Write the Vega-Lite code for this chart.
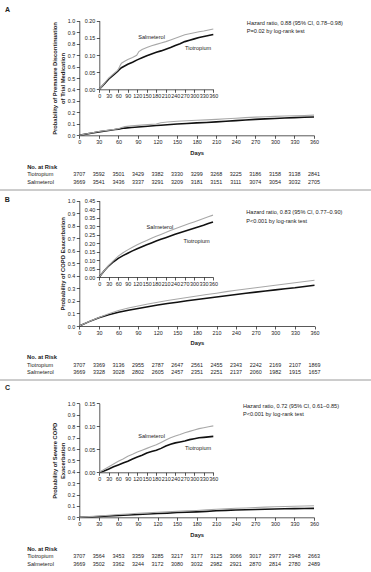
{
  "$schema": "https://vega.github.io/schema/vega-lite/v6.json",
  "width": 371,
  "height": 572,
  "padding": 0,
  "autosize": {"type": "none"},
  "background": "white",
  "datasets": {
    "curveA": [
      {"day": 0, "Tiotropium": 0, "Salmeterol": 0},
      {"day": 10, "Tiotropium": 0.010, "Salmeterol": 0.011},
      {"day": 20, "Tiotropium": 0.020, "Salmeterol": 0.022},
      {"day": 30, "Tiotropium": 0.030, "Salmeterol": 0.033},
      {"day": 45, "Tiotropium": 0.042, "Salmeterol": 0.045},
      {"day": 55, "Tiotropium": 0.050, "Salmeterol": 0.053},
      {"day": 60, "Tiotropium": 0.054, "Salmeterol": 0.058},
      {"day": 65, "Tiotropium": 0.059, "Salmeterol": 0.068},
      {"day": 70, "Tiotropium": 0.063, "Salmeterol": 0.076},
      {"day": 80, "Tiotropium": 0.068, "Salmeterol": 0.082},
      {"day": 90, "Tiotropium": 0.073, "Salmeterol": 0.087},
      {"day": 105, "Tiotropium": 0.079, "Salmeterol": 0.093},
      {"day": 118, "Tiotropium": 0.085, "Salmeterol": 0.099},
      {"day": 125, "Tiotropium": 0.088, "Salmeterol": 0.110},
      {"day": 135, "Tiotropium": 0.092, "Salmeterol": 0.116},
      {"day": 150, "Tiotropium": 0.098, "Salmeterol": 0.122},
      {"day": 165, "Tiotropium": 0.103, "Salmeterol": 0.127},
      {"day": 180, "Tiotropium": 0.108, "Salmeterol": 0.131},
      {"day": 195, "Tiotropium": 0.112, "Salmeterol": 0.135},
      {"day": 210, "Tiotropium": 0.117, "Salmeterol": 0.139},
      {"day": 225, "Tiotropium": 0.122, "Salmeterol": 0.144},
      {"day": 240, "Tiotropium": 0.128, "Salmeterol": 0.149},
      {"day": 255, "Tiotropium": 0.133, "Salmeterol": 0.154},
      {"day": 270, "Tiotropium": 0.139, "Salmeterol": 0.159},
      {"day": 285, "Tiotropium": 0.143, "Salmeterol": 0.162},
      {"day": 300, "Tiotropium": 0.147, "Salmeterol": 0.165},
      {"day": 315, "Tiotropium": 0.151, "Salmeterol": 0.168},
      {"day": 330, "Tiotropium": 0.154, "Salmeterol": 0.170},
      {"day": 345, "Tiotropium": 0.157, "Salmeterol": 0.173},
      {"day": 360, "Tiotropium": 0.160, "Salmeterol": 0.176}
    ],
    "curveB": [
      {"day": 0, "Tiotropium": 0, "Salmeterol": 0},
      {"day": 15, "Tiotropium": 0.035, "Salmeterol": 0.036},
      {"day": 30, "Tiotropium": 0.066, "Salmeterol": 0.068},
      {"day": 45, "Tiotropium": 0.090, "Salmeterol": 0.097},
      {"day": 60, "Tiotropium": 0.110, "Salmeterol": 0.123},
      {"day": 75, "Tiotropium": 0.126, "Salmeterol": 0.143},
      {"day": 90, "Tiotropium": 0.140, "Salmeterol": 0.160},
      {"day": 105, "Tiotropium": 0.154, "Salmeterol": 0.176},
      {"day": 120, "Tiotropium": 0.167, "Salmeterol": 0.190},
      {"day": 135, "Tiotropium": 0.179, "Salmeterol": 0.203},
      {"day": 150, "Tiotropium": 0.190, "Salmeterol": 0.215},
      {"day": 165, "Tiotropium": 0.201, "Salmeterol": 0.228},
      {"day": 180, "Tiotropium": 0.212, "Salmeterol": 0.240},
      {"day": 195, "Tiotropium": 0.222, "Salmeterol": 0.251},
      {"day": 210, "Tiotropium": 0.232, "Salmeterol": 0.262},
      {"day": 225, "Tiotropium": 0.242, "Salmeterol": 0.274},
      {"day": 240, "Tiotropium": 0.252, "Salmeterol": 0.285},
      {"day": 255, "Tiotropium": 0.261, "Salmeterol": 0.295},
      {"day": 270, "Tiotropium": 0.270, "Salmeterol": 0.305},
      {"day": 285, "Tiotropium": 0.279, "Salmeterol": 0.315},
      {"day": 300, "Tiotropium": 0.288, "Salmeterol": 0.325},
      {"day": 315, "Tiotropium": 0.297, "Salmeterol": 0.335},
      {"day": 330, "Tiotropium": 0.305, "Salmeterol": 0.345},
      {"day": 345, "Tiotropium": 0.315, "Salmeterol": 0.355},
      {"day": 360, "Tiotropium": 0.325, "Salmeterol": 0.365}
    ],
    "curveC": [
      {"day": 0, "Tiotropium": 0, "Salmeterol": 0},
      {"day": 15, "Tiotropium": 0.003, "Salmeterol": 0.006},
      {"day": 30, "Tiotropium": 0.007, "Salmeterol": 0.012},
      {"day": 45, "Tiotropium": 0.012, "Salmeterol": 0.018},
      {"day": 60, "Tiotropium": 0.016, "Salmeterol": 0.024},
      {"day": 75, "Tiotropium": 0.020, "Salmeterol": 0.029},
      {"day": 90, "Tiotropium": 0.024, "Salmeterol": 0.035},
      {"day": 105, "Tiotropium": 0.029, "Salmeterol": 0.039},
      {"day": 120, "Tiotropium": 0.033, "Salmeterol": 0.044},
      {"day": 135, "Tiotropium": 0.037, "Salmeterol": 0.048},
      {"day": 150, "Tiotropium": 0.042, "Salmeterol": 0.052},
      {"day": 165, "Tiotropium": 0.045, "Salmeterol": 0.056},
      {"day": 180, "Tiotropium": 0.048, "Salmeterol": 0.060},
      {"day": 195, "Tiotropium": 0.052, "Salmeterol": 0.065},
      {"day": 210, "Tiotropium": 0.057, "Salmeterol": 0.070},
      {"day": 225, "Tiotropium": 0.061, "Salmeterol": 0.075},
      {"day": 240, "Tiotropium": 0.064, "Salmeterol": 0.079},
      {"day": 255, "Tiotropium": 0.066, "Salmeterol": 0.082},
      {"day": 270, "Tiotropium": 0.068, "Salmeterol": 0.086},
      {"day": 285, "Tiotropium": 0.071, "Salmeterol": 0.089},
      {"day": 300, "Tiotropium": 0.073, "Salmeterol": 0.092},
      {"day": 315, "Tiotropium": 0.075, "Salmeterol": 0.095},
      {"day": 330, "Tiotropium": 0.076, "Salmeterol": 0.097},
      {"day": 345, "Tiotropium": 0.077, "Salmeterol": 0.099},
      {"day": 360, "Tiotropium": 0.078, "Salmeterol": 0.101}
    ],
    "riskA": [
      {"day": 0, "Tiotropium": 3707, "Salmeterol": 3669},
      {"day": 30, "Tiotropium": 3592, "Salmeterol": 3541},
      {"day": 60, "Tiotropium": 3501, "Salmeterol": 3436},
      {"day": 90, "Tiotropium": 3429, "Salmeterol": 3337},
      {"day": 120, "Tiotropium": 3382, "Salmeterol": 3291},
      {"day": 150, "Tiotropium": 3330, "Salmeterol": 3209},
      {"day": 180, "Tiotropium": 3299, "Salmeterol": 3181},
      {"day": 210, "Tiotropium": 3268, "Salmeterol": 3151},
      {"day": 240, "Tiotropium": 3225, "Salmeterol": 3111},
      {"day": 270, "Tiotropium": 3186, "Salmeterol": 3074},
      {"day": 300, "Tiotropium": 3158, "Salmeterol": 3054},
      {"day": 330, "Tiotropium": 3138, "Salmeterol": 3032},
      {"day": 360, "Tiotropium": 2841, "Salmeterol": 2705}
    ],
    "riskB": [
      {"day": 0, "Tiotropium": 3707, "Salmeterol": 3669},
      {"day": 30, "Tiotropium": 3369, "Salmeterol": 3328},
      {"day": 60, "Tiotropium": 3136, "Salmeterol": 3028},
      {"day": 90, "Tiotropium": 2955, "Salmeterol": 2802},
      {"day": 120, "Tiotropium": 2787, "Salmeterol": 2605},
      {"day": 150, "Tiotropium": 2647, "Salmeterol": 2457},
      {"day": 180, "Tiotropium": 2561, "Salmeterol": 2351},
      {"day": 210, "Tiotropium": 2455, "Salmeterol": 2251},
      {"day": 240, "Tiotropium": 2343, "Salmeterol": 2137},
      {"day": 270, "Tiotropium": 2242, "Salmeterol": 2060},
      {"day": 300, "Tiotropium": 2169, "Salmeterol": 1982},
      {"day": 330, "Tiotropium": 2107, "Salmeterol": 1915},
      {"day": 360, "Tiotropium": 1869, "Salmeterol": 1657}
    ],
    "riskC": [
      {"day": 0, "Tiotropium": 3707, "Salmeterol": 3669},
      {"day": 30, "Tiotropium": 3564, "Salmeterol": 3502},
      {"day": 60, "Tiotropium": 3453, "Salmeterol": 3362},
      {"day": 90, "Tiotropium": 3359, "Salmeterol": 3244},
      {"day": 120, "Tiotropium": 3285, "Salmeterol": 3172},
      {"day": 150, "Tiotropium": 3217, "Salmeterol": 3080},
      {"day": 180, "Tiotropium": 3177, "Salmeterol": 3032},
      {"day": 210, "Tiotropium": 3125, "Salmeterol": 2982},
      {"day": 240, "Tiotropium": 3066, "Salmeterol": 2921},
      {"day": 270, "Tiotropium": 3017, "Salmeterol": 2870},
      {"day": 300, "Tiotropium": 2977, "Salmeterol": 2814},
      {"day": 330, "Tiotropium": 2948, "Salmeterol": 2780},
      {"day": 360, "Tiotropium": 2663, "Salmeterol": 2489}
    ]
  },
  "layer": [
    {
      "layer": [
        {
          "data": {"name": "curveA"},
          "transform": [{"fold": ["Tiotropium", "Salmeterol"], "as": ["drug", "p"]}],
          "mark": {"type": "line"},
          "encoding": {
            "x": {"field": "day", "type": "quantitative", "scale": {"domain": [0, 360], "range": [79.3, 314], "nice": false, "zero": false},
              "axis": {"orient": "bottom", "offset": -436.7, "tickCount": 20, "values": [0, 30, 60, 90, 120, 150, 180, 210, 240, 270, 300, 330, 360], "title": "Days", "titlePadding": 4}},
            "y": {"field": "p", "type": "quantitative", "scale": {"domain": [0, 1], "range": [135.3, 20.7], "nice": false},
              "axis": {"orient": "left", "offset": -79.3, "tickCount": 20, "values": [0, 0.1, 0.2, 0.3, 0.4, 0.5, 0.6, 0.7, 0.8, 0.9, 1], "format": ".1f", "title": ["Probability of Premature Discontinuation", "of Trial Medication"], "titlePadding": 2}},
            "color": {"field": "drug", "type": "nominal", "scale": {"domain": ["Salmeterol", "Tiotropium"], "range": ["#a8a8a8", "#111111"]}, "legend": null},
            "strokeWidth": {"field": "drug", "type": "nominal", "scale": {"domain": ["Salmeterol", "Tiotropium"], "range": [1.1, 1.6]}, "legend": null}
          }
        },
        {
          "data": {"values": [{}]},
          "mark": {"type": "text", "align": "left", "baseline": "top", "lineBreak": "\n", "lineHeight": 8.4, "fontSize": 5.6, "color": "#222"},
          "encoding": {"x": {"datum": 257}, "y": {"datum": 1.0}, "text": {"value": "Hazard ratio, 0.88 (95% CI, 0.78–0.98)\nP=0.02 by log-rank test"}}
        },
        {
          "data": {"values": [{}]},
          "mark": {"type": "text", "align": "left", "baseline": "middle", "fontSize": 7, "fontWeight": "bold", "color": "#222"},
          "encoding": {"x": {"datum": -114}, "y": {"datum": 1.093}, "text": {"value": "A"}}
        }
      ]
    },
    {
      "layer": [
        {
          "data": {"name": "curveA"},
          "transform": [{"fold": ["Tiotropium", "Salmeterol"], "as": ["drug", "p"]}],
          "mark": {"type": "line"},
          "encoding": {
            "x": {"field": "day", "type": "quantitative", "scale": {"domain": [0, 360], "range": [99.3, 213.3], "nice": false, "zero": false},
              "axis": {"orient": "bottom", "offset": -482.7, "tickCount": 20, "values": [0, 30, 60, 90, 120, 150, 180, 210, 240, 270, 300, 330, 360], "title": null}},
            "y": {"field": "p", "type": "quantitative", "scale": {"domain": [0, 0.2], "range": [89.3, 20.7], "nice": false},
              "axis": {"orient": "left", "offset": -99.3, "tickCount": 20, "values": [0, 0.05, 0.1, 0.15, 0.2], "format": ".2f", "title": null}},
            "color": {"field": "drug", "type": "nominal", "legend": null},
            "strokeWidth": {"field": "drug", "type": "nominal", "legend": null}
          }
        },
        {
          "data": {"values": [{}]},
          "mark": {"type": "text", "fontSize": 5.6, "color": "#222"},
          "encoding": {"x": {"datum": 165}, "y": {"datum": 0.153}, "text": {"value": "Salmeterol"}}
        },
        {
          "data": {"values": [{}]},
          "mark": {"type": "text", "fontSize": 5.6, "color": "#222"},
          "encoding": {"x": {"datum": 312}, "y": {"datum": 0.12}, "text": {"value": "Tiotropium"}}
        }
      ]
    },
    {
      "layer": [
        {
          "data": {"name": "riskA"},
          "transform": [{"fold": ["Tiotropium", "Salmeterol"], "as": ["drug", "n"]}],
          "mark": {"type": "text", "fontSize": 5.4, "color": "#222"},
          "encoding": {
            "x": {"field": "day", "type": "quantitative", "scale": {"domain": [0, 360], "range": [79.3, 314], "nice": false, "zero": false}, "axis": null},
            "y": {"field": "drug", "type": "nominal", "scale": {"type": "point", "domain": ["No. at Risk", "Tiotropium", "Salmeterol", "sep"], "range": [166.5, 190], "padding": 0}, "axis": null},
            "text": {"field": "n", "type": "quantitative"}
          }
        },
        {
          "data": {"values": [{"drug": "Tiotropium"}, {"drug": "Salmeterol"}]},
          "mark": {"type": "text", "align": "left", "fontSize": 5.6, "color": "#222"},
          "encoding": {"x": {"datum": -80}, "y": {"field": "drug", "type": "nominal"}, "text": {"field": "drug"}}
        },
        {
          "data": {"values": [{}]},
          "mark": {"type": "text", "align": "left", "fontSize": 5.8, "fontWeight": "bold", "color": "#222"},
          "encoding": {"x": {"datum": -80}, "y": {"datum": "No. at Risk"}, "text": {"value": "No. at Risk"}}
        },
        {
          "data": {"values": [{}]},
          "mark": {"type": "rule", "color": "#9a9a9a", "strokeWidth": 1},
          "encoding": {"x": {"datum": -122}, "x2": {"datum": 450}, "y": {"datum": "sep"}}
        }
      ]
    },
    {
      "layer": [
        {
          "data": {"name": "curveB"},
          "transform": [{"fold": ["Tiotropium", "Salmeterol"], "as": ["drug", "p"]}],
          "mark": {"type": "line"},
          "encoding": {
            "x": {"field": "day", "type": "quantitative", "scale": {"domain": [0, 360], "range": [79.3, 314.5], "nice": false, "zero": false},
              "axis": {"orient": "bottom", "offset": -246, "tickCount": 20, "values": [0, 30, 60, 90, 120, 150, 180, 210, 240, 270, 300, 330, 360], "title": "Days", "titlePadding": 4}},
            "y": {"field": "p", "type": "quantitative", "scale": {"domain": [0, 1], "range": [326, 200.7], "nice": false},
              "axis": {"orient": "left", "offset": -79.3, "tickCount": 20, "values": [0, 0.1, 0.2, 0.3, 0.4, 0.5, 0.6, 0.7, 0.8, 0.9, 1], "format": ".1f", "title": "Probability of COPD Exacerbation", "titlePadding": 2}},
            "color": {"field": "drug", "type": "nominal", "legend": null},
            "strokeWidth": {"field": "drug", "type": "nominal", "legend": null}
          }
        },
        {
          "data": {"values": [{}]},
          "mark": {"type": "text", "align": "left", "baseline": "top", "lineBreak": "\n", "lineHeight": 8.4, "fontSize": 5.6, "color": "#222"},
          "encoding": {"x": {"datum": 255.6}, "y": {"datum": 0.923}, "text": {"value": "Hazard ratio, 0.83 (95% CI, 0.77–0.90)\nP<0.001 by log-rank test"}}
        },
        {
          "data": {"values": [{}]},
          "mark": {"type": "text", "align": "left", "baseline": "middle", "fontSize": 7, "fontWeight": "bold", "color": "#222"},
          "encoding": {"x": {"datum": -114}, "y": {"datum": 1.006}, "text": {"value": "B"}}
        }
      ]
    },
    {
      "layer": [
        {
          "data": {"name": "curveB"},
          "transform": [{"fold": ["Tiotropium", "Salmeterol"], "as": ["drug", "p"]}],
          "mark": {"type": "line"},
          "encoding": {
            "x": {"field": "day", "type": "quantitative", "scale": {"domain": [0, 360], "range": [99.3, 213], "nice": false, "zero": false},
              "axis": {"orient": "bottom", "offset": -295, "tickCount": 20, "values": [0, 30, 60, 90, 120, 150, 180, 210, 240, 270, 300, 330, 360], "title": null}},
            "y": {"field": "p", "type": "quantitative", "scale": {"domain": [0, 0.45], "range": [277, 200.7], "nice": false},
              "axis": {"orient": "left", "offset": -99.3, "tickCount": 20, "values": [0, 0.05, 0.1, 0.15, 0.2, 0.25, 0.3, 0.35, 0.4, 0.45], "format": ".2f", "title": null}},
            "color": {"field": "drug", "type": "nominal", "legend": null},
            "strokeWidth": {"field": "drug", "type": "nominal", "legend": null}
          }
        },
        {
          "data": {"values": [{}]},
          "mark": {"type": "text", "fontSize": 5.6, "color": "#222"},
          "encoding": {"x": {"datum": 192}, "y": {"datum": 0.297}, "text": {"value": "Salmeterol"}}
        },
        {
          "data": {"values": [{}]},
          "mark": {"type": "text", "fontSize": 5.6, "color": "#222"},
          "encoding": {"x": {"datum": 308}, "y": {"datum": 0.212}, "text": {"value": "Tiotropium"}}
        }
      ]
    },
    {
      "layer": [
        {
          "data": {"name": "riskB"},
          "transform": [{"fold": ["Tiotropium", "Salmeterol"], "as": ["drug", "n"]}],
          "mark": {"type": "text", "fontSize": 5.4, "color": "#222"},
          "encoding": {
            "x": {"field": "day", "type": "quantitative", "scale": {"domain": [0, 360], "range": [79.3, 314.5], "nice": false, "zero": false}, "axis": null},
            "y": {"field": "drug", "type": "nominal", "scale": {"type": "point", "domain": ["No. at Risk", "Tiotropium", "Salmeterol", "sep"], "range": [357, 380], "padding": 0}, "axis": null},
            "text": {"field": "n", "type": "quantitative"}
          }
        },
        {
          "data": {"values": [{"drug": "Tiotropium"}, {"drug": "Salmeterol"}]},
          "mark": {"type": "text", "align": "left", "fontSize": 5.6, "color": "#222"},
          "encoding": {"x": {"datum": -80}, "y": {"field": "drug", "type": "nominal"}, "text": {"field": "drug"}}
        },
        {
          "data": {"values": [{}]},
          "mark": {"type": "text", "align": "left", "fontSize": 5.8, "fontWeight": "bold", "color": "#222"},
          "encoding": {"x": {"datum": -80}, "y": {"datum": "No. at Risk"}, "text": {"value": "No. at Risk"}}
        },
        {
          "data": {"values": [{}]},
          "mark": {"type": "rule", "color": "#9a9a9a", "strokeWidth": 1},
          "encoding": {"x": {"datum": -122}, "x2": {"datum": 450}, "y": {"datum": "sep"}}
        }
      ]
    },
    {
      "layer": [
        {
          "data": {"name": "curveC"},
          "transform": [{"fold": ["Tiotropium", "Salmeterol"], "as": ["drug", "p"]}],
          "mark": {"type": "line"},
          "encoding": {
            "x": {"field": "day", "type": "quantitative", "scale": {"domain": [0, 360], "range": [79.3, 314], "nice": false, "zero": false},
              "axis": {"orient": "bottom", "offset": -54.7, "tickCount": 20, "values": [0, 30, 60, 90, 120, 150, 180, 210, 240, 270, 300, 330, 360], "title": "Days", "titlePadding": 4}},
            "y": {"field": "p", "type": "quantitative", "scale": {"domain": [0, 1], "range": [517.3, 403.3], "nice": false},
              "axis": {"orient": "left", "offset": -79.3, "tickCount": 20, "values": [0, 0.1, 0.2, 0.3, 0.4, 0.5, 0.6, 0.7, 0.8, 0.9, 1], "format": ".1f", "title": ["Probability of Severe COPD", "Exacerbation"], "titlePadding": 2}},
            "color": {"field": "drug", "type": "nominal", "legend": null},
            "strokeWidth": {"field": "drug", "type": "nominal", "legend": null}
          }
        },
        {
          "data": {"values": [{}]},
          "mark": {"type": "text", "align": "left", "baseline": "top", "lineBreak": "\n", "lineHeight": 8.4, "fontSize": 5.6, "color": "#222"},
          "encoding": {"x": {"datum": 251}, "y": {"datum": 0.994}, "text": {"value": "Hazard ratio, 0.72 (95% CI, 0.61–0.85)\nP<0.001 by log-rank test"}}
        },
        {
          "data": {"values": [{}]},
          "mark": {"type": "text", "align": "left", "baseline": "middle", "fontSize": 7, "fontWeight": "bold", "color": "#222"},
          "encoding": {"x": {"datum": -114}, "y": {"datum": 1.132}, "text": {"value": "C"}}
        }
      ]
    },
    {
      "layer": [
        {
          "data": {"name": "curveC"},
          "transform": [{"fold": ["Tiotropium", "Salmeterol"], "as": ["drug", "p"]}],
          "mark": {"type": "line"},
          "encoding": {
            "x": {"field": "day", "type": "quantitative", "scale": {"domain": [0, 360], "range": [99.3, 213.3], "nice": false, "zero": false},
              "axis": {"orient": "bottom", "offset": -99.7, "tickCount": 20, "values": [0, 30, 60, 90, 120, 150, 180, 210, 240, 270, 300, 330, 360], "title": null}},
            "y": {"field": "p", "type": "quantitative", "scale": {"domain": [0, 0.15], "range": [472.3, 403.3], "nice": false},
              "axis": {"orient": "left", "offset": -99.3, "tickCount": 20, "values": [0, 0.05, 0.1, 0.15], "format": ".2f", "title": null}},
            "color": {"field": "drug", "type": "nominal", "legend": null},
            "strokeWidth": {"field": "drug", "type": "nominal", "legend": null}
          }
        },
        {
          "data": {"values": [{}]},
          "mark": {"type": "text", "fontSize": 5.6, "color": "#222"},
          "encoding": {"x": {"datum": 165}, "y": {"datum": 0.079}, "text": {"value": "Salmeterol"}}
        },
        {
          "data": {"values": [{}]},
          "mark": {"type": "text", "fontSize": 5.6, "color": "#222"},
          "encoding": {"x": {"datum": 312}, "y": {"datum": 0.0535}, "text": {"value": "Tiotropium"}}
        }
      ]
    },
    {
      "layer": [
        {
          "data": {"name": "riskC"},
          "transform": [{"fold": ["Tiotropium", "Salmeterol"], "as": ["drug", "n"]}],
          "mark": {"type": "text", "fontSize": 5.4, "color": "#222"},
          "encoding": {
            "x": {"field": "day", "type": "quantitative", "scale": {"domain": [0, 360], "range": [79.3, 314], "nice": false, "zero": false}, "axis": null},
            "y": {"field": "drug", "type": "nominal", "scale": {"type": "point", "domain": ["No. at Risk", "Tiotropium", "Salmeterol"], "range": [548.5, 564], "padding": 0}, "axis": null},
            "text": {"field": "n", "type": "quantitative"}
          }
        },
        {
          "data": {"values": [{"drug": "Tiotropium"}, {"drug": "Salmeterol"}]},
          "mark": {"type": "text", "align": "left", "fontSize": 5.6, "color": "#222"},
          "encoding": {"x": {"datum": -80}, "y": {"field": "drug", "type": "nominal"}, "text": {"field": "drug"}}
        },
        {
          "data": {"values": [{}]},
          "mark": {"type": "text", "align": "left", "fontSize": 5.8, "fontWeight": "bold", "color": "#222"},
          "encoding": {"x": {"datum": -80}, "y": {"datum": "No. at Risk"}, "text": {"value": "No. at Risk"}}
        }
      ]
    }
  ],
  "resolve": {"scale": {"x": "independent", "y": "independent"}, "axis": {"x": "independent", "y": "independent"}},
  "config": {
    "font": "Liberation Sans",
    "view": {"stroke": null},
    "axis": {
      "grid": false,
      "labelFontSize": 5.4,
      "labelColor": "#222",
      "labelPadding": 1.5,
      "labelOverlap": false,
      "labelFlush": false,
      "labelBound": false,
      "domainColor": "#111",
      "domainWidth": 0.7,
      "tickColor": "#111",
      "tickWidth": 0.7,
      "tickSize": 3,
      "titleFontSize": 5.8,
      "titleFontWeight": "bold",
      "titleColor": "#222"
    }
  }
}
